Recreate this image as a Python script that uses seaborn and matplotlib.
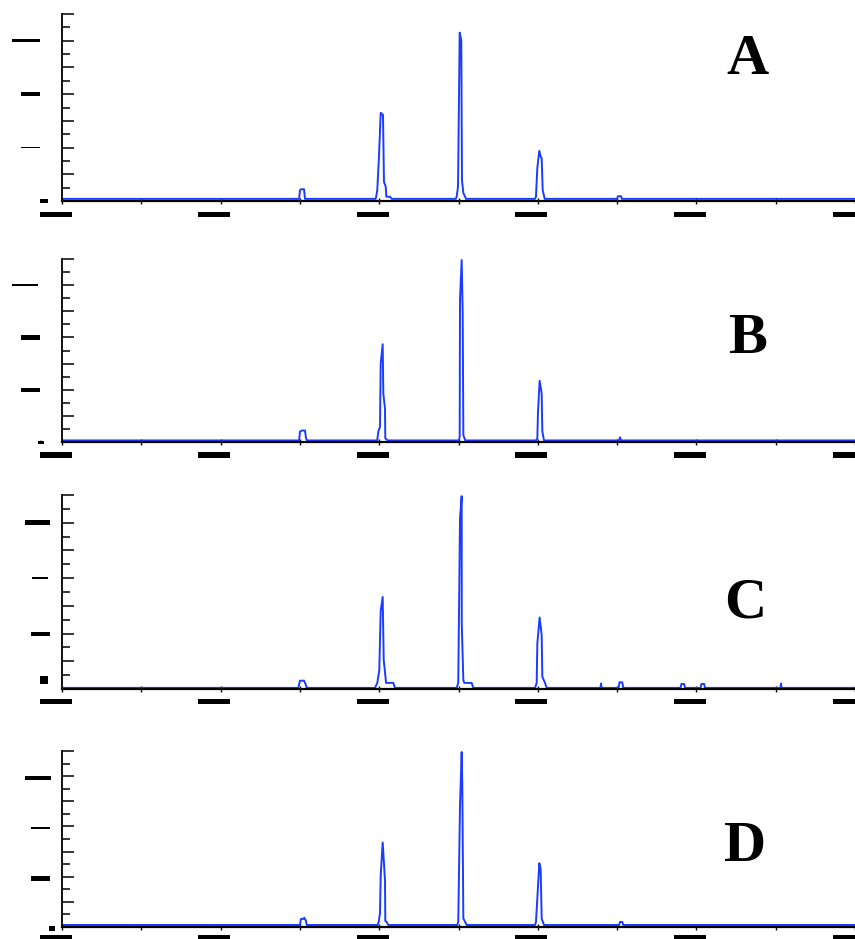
import numpy as np
import pandas as pd
import matplotlib
matplotlib.use("Agg")
import matplotlib.pyplot as plt
from matplotlib.path import Path
from matplotlib.transforms import Affine2D
import seaborn as sns

# ---------------- data ----------------
panel_names = ["A", "B", "C", "D"]

xA = [0, 2.99, 3.001, 3.014, 3.052, 3.064,
      3.955, 3.962, 3.976, 3.997, 4.019, 4.035, 4.048, 4.06, 4.082, 4.09, 4.136, 4.158,
      4.965, 4.977, 4.994, 5.015, 5.035, 5.044, 5.061, 5.095,
      5.965, 5.977, 5.994, 6.019, 6.036, 6.049, 6.062, 6.087,
      7.0, 7.011, 7.049, 7.06, 10]
yA = [0.04, 0.04, 0.2, 0.22, 0.22, 0.04,
      0.04, 0.08, 0.21, 0.83, 1.65, 1.63, 1.61, 0.36, 0.27, 0.08, 0.08, 0.04,
      0.04, 0.08, 0.27, 3.15, 3.01, 0.39, 0.15, 0.04,
      0.04, 0.08, 0.62, 0.94, 0.83, 0.80, 0.2, 0.04,
      0.04, 0.09, 0.09, 0.04, 0.04]

xB = [0, 2.99, 3.001, 3.026, 3.064, 3.077, 3.09,
      3.975, 3.989, 4.010, 4.019, 4.044, 4.052, 4.073, 4.077, 4.107,
      5.005, 5.015, 5.019, 5.040, 5.053, 5.061, 5.086,
      5.98, 5.994, 6.002, 6.023, 6.049, 6.057, 6.078,
      7.025, 7.037, 7.05, 10]
yB = [0.03, 0.03, 0.2, 0.22, 0.22, 0.07, 0.03,
      0.03, 0.2, 0.29, 1.5, 1.87, 0.93, 0.64, 0.07, 0.03,
      0.03, 0.1, 2.72, 3.48, 2.46, 0.13, 0.03,
      0.03, 0.07, 0.55, 1.17, 0.93, 0.2, 0.03,
      0.03, 0.09, 0.03, 0.03]

xC = [0, 2.98, 3.001, 3.052, 3.077, 3.086,
      3.947, 3.976, 4.001, 4.019, 4.044, 4.057, 4.073, 4.086, 4.178, 4.199,
      4.977, 4.997, 5.019, 5.040, 5.041, 5.061, 5.073, 5.166, 5.186,
      5.965, 5.986, 5.994, 6.023, 6.049, 6.057, 6.091, 6.112,
      6.79, 6.797, 6.805,
      7.018, 7.03, 7.065, 7.078,
      7.80, 7.81, 7.845, 7.856,
      8.053, 8.063, 8.098, 8.109,
      9.06, 9.067, 9.074, 10]
yC = [0.02, 0.02, 0.15, 0.15, 0.07, 0.02,
      0.02, 0.11, 0.34, 1.41, 1.66, 0.52, 0.31, 0.11, 0.11, 0.02,
      0.02, 0.11, 3.08, 3.48, 1.19, 0.16, 0.11, 0.11, 0.02,
      0.02, 0.11, 0.82, 1.29, 0.97, 0.22, 0.11, 0.02,
      0.02, 0.1, 0.02,
      0.02, 0.12, 0.12, 0.02,
      0.02, 0.09, 0.09, 0.02,
      0.02, 0.09, 0.09, 0.02,
      0.02, 0.1, 0.02, 0.02]

xD = [0, 2.99, 3.001, 3.014, 3.043, 3.055, 3.077, 3.086,
      3.98, 3.994, 4.010, 4.019, 4.044, 4.073, 4.077, 4.095, 4.115,
      4.985, 4.997, 5.019, 5.040, 5.048, 5.061, 5.103,
      5.965, 5.977, 5.994, 6.019, 6.036, 6.049, 6.078,
      7.025, 7.037, 7.066, 7.078, 10]
yD = [0.04, 0.04, 0.05, 0.16, 0.16, 0.185, 0.12, 0.04,
      0.04, 0.105, 0.27, 1.03, 1.68, 0.93, 0.12, 0.1, 0.04,
      0.04, 0.1, 2.42, 3.48, 2.82, 0.17, 0.04,
      0.04, 0.1, 0.57, 1.27, 1.15, 0.17, 0.04,
      0.04, 0.1, 0.1, 0.04, 0.04]

series_x = [xA, xB, xC, xD]
series_y = [yA, yB, yC, yD]

x_major = [0, 2, 4, 6, 8, 10]
x_major_labels = ["0", "2", "4", "6", "8", "10"]
x_minor = [1, 3, 5, 7, 9]
y_major = [0, 0.5, 1, 1.5, 2, 2.5, 3, 3.5]
y_major_labels = ["0", "", "1", "", "2", "", "3", ""]
y_minor = [0.25, 0.75, 1.25, 1.75, 2.25, 2.75, 3.25]

# ---------------- styling / layout ----------------
sns.set_theme(style="white")
plt.rcParams["font.family"] = ["DejaVu Sans"]

LINE_COLOR = "#1a3cff"
W, H = 855, 939
fig = plt.figure(figsize=(W / 100, H / 100), dpi=100)

# axes boxes in pixels: (top, bottom)
boxes = [(14, 201), (259, 442), (495, 689), (751, 927)]
left_px, right_px = 62, 855

# letter positions (axes fraction x, y baseline)
letter_pos = [(0.864, 0.679), (0.865, 0.486), (0.861, 0.366), (0.861, 0.375)]

# redaction-bar specs for y labels: value -> (dist from axis to bar centre, w, h, dy)
ybar_specs = [
    {"0": (18, 8, 3.5, 0), "1": (31.5, 19, 1.6, 0), "2": (31.5, 19, 4, 0), "3": (36, 28, 3.5, 0)},
    {"0": (21, 6, 3, 0), "1": (31.5, 19, 4, 0), "2": (31.5, 19, 5, 0), "3": (37, 26, 1.6, 0)},
    {"0": (18, 8, 8, 9), "1": (21.5, 19, 4, 0), "2": (22, 16, 1.6, 0), "3": (24.5, 25, 5, 0)},
    {"0": (10, 6, 5, -1), "1": (21.5, 19, 5, -1.5), "2": (21.5, 19, 1.6, -1.5), "3": (24, 26, 3.5, -2)},
]
xbar_below = [13.5, 13, 12.5, 11]
XTICK_LEN = 4  # points, inout -> 2 pt outward


def bar_box(w, h):
    def style(x0, y0, width, height, mutation_size):
        cx = x0 + width / 2
        cy = y0 + height / 2
        return Path([(cx - w / 2, cy - h / 2), (cx + w / 2, cy - h / 2),
                     (cx + w / 2, cy + h / 2), (cx - w / 2, cy + h / 2),
                     (cx - w / 2, cy - h / 2)], closed=True)
    return style


for i, name in enumerate(panel_names):
    top, bot = boxes[i]
    ax = fig.add_axes([left_px / W, 1 - bot / H, (right_px - left_px) / W, (bot - top) / H])
    df = pd.DataFrame({"x": series_x[i], "y": series_y[i]})
    sns.lineplot(data=df, x="x", y="y", ax=ax, sort=False, estimator=None,
                 color=LINE_COLOR, linewidth=1.4)
    ax.set_xlim(0, 10)
    ax.set_ylim(0, 3.5)
    ax.set_xlabel("")
    ax.set_ylabel("")
    ax.set_facecolor("white")
    for s in ["top", "right"]:
        ax.spines[s].set_visible(False)
    ax.spines["left"].set_linewidth(1.3)
    ax.spines["bottom"].set_linewidth(1.6)
    ax.spines["left"].set_color("black")
    ax.spines["bottom"].set_color("black")

    ax.set_xticks(x_major, x_major_labels)
    ax.set_xticks(x_minor, minor=True)
    ax.set_yticks(y_major, y_major_labels)
    ax.set_yticks(y_minor, minor=True)
    ax.tick_params(axis="x", which="both", bottom=True, direction="inout",
                   length=XTICK_LEN, width=1.0, color="black", pad=0,
                   labelsize=2, labelcolor="black")
    ax.tick_params(axis="y", which="major", left=True, direction="in", length=8.6,
                   width=1.1, color="black", pad=0, labelsize=2, labelcolor="black")
    ax.tick_params(axis="y", which="minor", left=True, direction="in", length=5.8,
                   width=1.1, color="black")
    ax.grid(False)

    out_px = (XTICK_LEN / 2) * 100 / 72
    for t in ax.xaxis.get_major_ticks():
        lab = t.label1
        lab.set_verticalalignment("center")
        lab.set_horizontalalignment("center")
        lab.set_transform(lab.get_transform() +
                          Affine2D().translate(-6.5, -(xbar_below[i] - out_px)))
        lab.set_bbox(dict(boxstyle=bar_box(32, 5.5), facecolor="black", edgecolor="none"))
    for t, txt in zip(ax.yaxis.get_major_ticks(), y_major_labels):
        if txt:
            d, w, h, dy = ybar_specs[i][txt]
            lab = t.label1
            lab.set_verticalalignment("center")
            lab.set_horizontalalignment("center")
            lab.set_fontsize(1.2 if h < 2 else 2)
            lab.set_transform(lab.get_transform() + Affine2D().translate(-d, dy))
            lab.set_bbox(dict(boxstyle=bar_box(w, h), facecolor="black", edgecolor="none"))

    lx, ly = letter_pos[i]
    ax.text(lx, ly, name, transform=ax.transAxes, ha="center", va="baseline",
            fontsize=42, fontweight="bold", family="Liberation Serif", color="black")

fig.savefig("out.png", dpi=100, facecolor="white")
